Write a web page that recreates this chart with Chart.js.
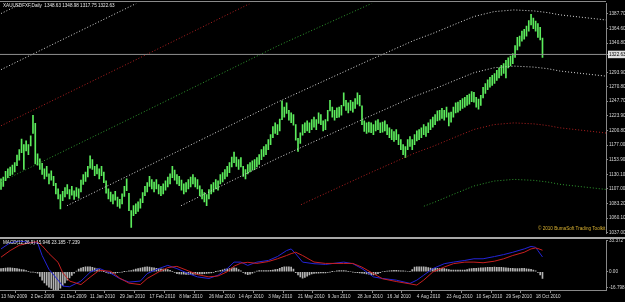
<!DOCTYPE html>
<html>
<head>
<meta charset="utf-8">
<script src="https://cdn.jsdelivr.net/npm/chart.js@4.4.0/dist/chart.umd.min.js"></script>
<style>
html, body { margin: 0; padding: 0; background: #000; width: 625px; height: 302px; overflow: hidden; }
canvas { position: absolute; left: 0; }
#price { top: 0; }
#macd { top: 237px; }
</style>
</head>
<body>
<canvas id="price" width="625" height="237"></canvas>
<canvas id="macd" width="625" height="65"></canvas>
<script>
// daily bars, 13 Nov 2009 .. 21 Oct 2010 (index = trading day)
var lows = [
  1106, 1111, 1120, 1125, 1128, 1130, 1134, 1144, 1153, 1165,
  1138, 1168, 1162, 1176, 1196, 1147, 1145, 1138, 1130, 1123,
  1127, 1115, 1121, 1112, 1099, 1091, 1075, 1088, 1094, 1099,
  1091, 1097, 1090, 1095, 1092, 1102, 1114, 1119, 1126, 1140,
  1138, 1128, 1131, 1123, 1128, 1117, 1100, 1091, 1087, 1083,
  1089, 1079, 1076, 1083, 1095, 1104, 1072, 1045, 1064, 1067,
  1071, 1076, 1085, 1096, 1102, 1111, 1107, 1102, 1107, 1099,
  1096, 1099, 1105, 1110, 1115, 1125, 1121, 1115, 1112, 1105,
  1099, 1102, 1107, 1110, 1115, 1110, 1107, 1096, 1091, 1086,
  1080, 1091, 1099, 1102, 1107, 1105, 1115, 1118, 1123, 1127,
  1133, 1142, 1149, 1143, 1138, 1142, 1127, 1123, 1131, 1134,
  1137, 1138, 1142, 1146, 1154, 1159, 1162, 1170, 1178, 1189,
  1196, 1194, 1200, 1218, 1222, 1228, 1217, 1213, 1209, 1185,
  1167, 1180, 1193, 1197, 1200, 1197, 1202, 1206, 1202, 1212,
  1210, 1200, 1202, 1216, 1232, 1222, 1217, 1221, 1222, 1225,
  1240, 1233, 1229, 1233, 1230, 1236, 1243, 1240, 1210, 1199,
  1196, 1198, 1197, 1194, 1200, 1202, 1197, 1198, 1200, 1194,
  1189, 1186, 1183, 1186, 1178, 1170, 1162, 1157, 1170, 1175,
  1170, 1178, 1184, 1186, 1189, 1194, 1191, 1197, 1202, 1206,
  1210, 1216, 1217, 1220, 1217, 1222, 1208, 1214, 1222, 1229,
  1230, 1233, 1236, 1238, 1241, 1243, 1247, 1246, 1238, 1235,
  1241, 1253, 1260, 1266, 1270, 1273, 1276, 1281, 1285, 1289,
  1292, 1285, 1301, 1304, 1308, 1318, 1330, 1336, 1344, 1347,
  1352, 1360, 1370, 1364, 1360, 1350, 1346, 1317.75
];
var highs = [
  1123, 1126, 1135, 1139, 1142, 1145, 1149, 1161, 1170, 1187,
  1178, 1184, 1178, 1192, 1225, 1212, 1163, 1155, 1148, 1139,
  1143, 1131, 1136, 1127, 1116, 1107, 1098, 1103, 1109, 1114,
  1106, 1111, 1104, 1109, 1107, 1121, 1130, 1134, 1143, 1160,
  1154, 1143, 1146, 1139, 1143, 1134, 1120, 1107, 1102, 1098,
  1103, 1094, 1090, 1099, 1111, 1123, 1100, 1072, 1080, 1083,
  1086, 1091, 1101, 1111, 1117, 1127, 1122, 1118, 1122, 1114,
  1111, 1115, 1120, 1126, 1131, 1143, 1137, 1130, 1127, 1121,
  1115, 1117, 1122, 1126, 1130, 1125, 1122, 1112, 1106, 1101,
  1098, 1106, 1114, 1117, 1122, 1120, 1130, 1133, 1138, 1143,
  1149, 1158, 1166, 1158, 1154, 1157, 1143, 1138, 1146, 1149,
  1152, 1154, 1157, 1162, 1170, 1175, 1178, 1186, 1194, 1207,
  1213, 1210, 1219, 1248, 1238, 1245, 1233, 1229, 1226, 1210,
  1188, 1197, 1210, 1213, 1216, 1213, 1218, 1222, 1218, 1229,
  1226, 1216, 1218, 1233, 1249, 1238, 1233, 1237, 1238, 1241,
  1261, 1249, 1245, 1249, 1246, 1252, 1261, 1257, 1240, 1216,
  1213, 1214, 1213, 1210, 1216, 1218, 1213, 1214, 1216, 1210,
  1205, 1202, 1199, 1202, 1194, 1186, 1178, 1175, 1186, 1191,
  1186, 1194, 1200, 1202, 1205, 1210, 1207, 1213, 1218, 1222,
  1226, 1232, 1233, 1236, 1233, 1238, 1229, 1230, 1238, 1245,
  1246, 1249, 1252, 1254, 1257, 1259, 1263, 1262, 1254, 1251,
  1257, 1270, 1276, 1282, 1286, 1289, 1292, 1297, 1301, 1305,
  1308, 1313, 1317, 1320, 1324, 1337, 1350, 1352, 1360, 1363,
  1368, 1377, 1387, 1381, 1376, 1372, 1366, 1348.98
];
var lastBar = [1348.63, 1348.98, 1317.75, 1322.63]; // O H L C

// MACD(12,26,9): histogram per bar, lines read at sample bars
var hist = [
  3.5, 3.8, 4.0, 4.2, 4.2, 4.0, 3.8, 3.5, 3.0, 2.5,
  2.0, 1.3, 0.5, -0.3, -0.4, -0.8, -1.5, -5.0, -9.0, -12.0,
  -14.5, -16.5, -18.0, -19.2, -19.8, -19.5, -17.5, -15.0, -12.0, -9.0,
  -6.5, -4.0, -1.5, 0.8, 2.8, 4.0, 4.8, 5.2, 5.4, 5.3,
  4.8, 4.0, 3.2, 2.3, 1.3, 0.2, -0.8, -1.6, -2.1, -1.8,
  -1.4, -0.9, -0.5, -0.2, 0.2, 0.6, 0.9, 1.3, 2.0, 2.8,
  3.5, 4.0, 4.6, 5.0, 5.3, 5.1, 4.6, 4.2, 3.8, 3.5,
  3.1, 2.8, 2.6, 2.4, 1.5, 0.4, -0.8, -1.9, -2.4, -2.6,
  -2.7, -2.8, -2.9, -2.9, -2.8, -2.6, -2.5, -2.3, -2.2, -2.0,
  -1.8, -1.5, -1.1, -0.6, 0.2, 0.8, 1.5, 2.2, 2.8, 3.3,
  3.5, 3.9, 4.3, 4.0, 2.5, 1.1, -0.8, -2.2, -3.2, -2.5,
  -1.5, -0.4, 0.8, 1.4, 1.4, 1.3, 1.2, 1.2, 1.5, 1.9,
  2.3, 2.6, 3.8, 4.8, 5.3, 5.3, 5.2, 5.0, 2.8, -1.0,
  -3.5, -5.5, -7.0, -6.2, -4.8, -3.5, -2.3, -1.8, -1.6, -1.5,
  -1.3, -1.2, -1.1, -0.8, -0.3, 0.2, 0.6, 1.0, 1.2, 1.4,
  1.4, 1.0, 0.5, 0.0, -0.3, -0.6, -0.9, -1.2, -1.4, -1.7,
  -2.2, -2.7, -3.2, -3.5, -2.8, -2.0, -1.0, 0.0, 0.5, 0.8,
  1.1, 1.3, 1.5, 1.5, 1.3, 1.1, 0.9, 0.7, 0.6, 0.5,
  2.5, 5.0, 5.2, 5.3, 5.3, 5.3, 5.0, 4.6, 4.1, 3.8,
  3.6, 3.6, 3.6, 3.6, 3.5, 3.0, 2.4, 1.9, 1.7, 1.7,
  1.8, 1.8, 1.8, 1.9, 2.5, 3.1, 3.5, 3.6, 3.8, 4.0,
  4.2, 4.3, 4.5, 4.7, 4.8, 4.9, 5.0, 4.9, 4.8, 4.7,
  4.5, 4.3, 4.0, 3.8, 3.6, 3.5, 3.5, 3.5, 3.6, 3.6,
  3.3, 3.0, 2.7, 1.8, 0.9, -0.8, -3.5, -7.239
];
var macdIdx = [0, 4, 8, 13, 16, 18, 21, 25, 27, 30, 35, 39, 43, 48, 52, 56, 61, 64, 69, 73,
  77, 82, 86, 91, 95, 99, 102, 105, 108, 112, 117, 121, 125, 127, 129, 132, 137, 142, 150, 154,
  158, 163, 167, 173, 179, 182, 185, 189, 194, 198, 203, 207, 211, 216, 220, 224, 229, 232, 234, 235, 237];
var macdMain = [24.6, 31.2, 33.0, 31.5, 31.2, 17.5, 2.6, -9.0, -15.4, -16.1, -10.0, -0.5, 3.7, -1.6, -7.4, -11.1, -10.0, -1.9, 3.4, 6.9,
  3.4, -1.9, -5.5, -7.2, -3.7, 3.4, 10.4, 10.4, 6.9, 10.4, 12.2, 16.4, 22.8, 24.6, 19.3, 10.4, 8.7, 7.9, 10.4, 8.7,
  3.4, -5.5, -7.2, -9.0, -12.5, -9.0, -3.7, 3.4, 8.7, 10.4, 12.2, 14.0, 14.0, 16.4, 18.5, 21.0, 24.6, 27.3, 26.3, 22.8, 15.946];
var macdSignal = [15.7, 22.8, 28.5, 31.5, 32.3, 28.0, 19.6, 10.1, -1.0, -10.0, -13.8, -5.8, 1.6, 0.5, -6.9, -12.2, -13.8, -7.2, -0.2, 4.5,
  5.8, 1.0, -3.0, -5.5, -4.5, 0.0, 6.0, 9.3, 10.2, 9.0, 11.0, 14.0, 17.5, 19.5, 21.0, 17.5, 10.5, 9.0, 9.0, 9.0,
  5.0, -2.0, -7.5, -10.5, -13.0, -14.3, -9.0, -0.2, 5.1, 8.7, 10.4, 10.4, 9.7, 11.4, 14.0, 17.5, 21.0, 24.6, 25.6, 25.0, 23.185];

// channel lines (bar index, price)
var w1Idx = [28.9, 60.0, 121.2, 160.6, 180.7, 189.5, 198.2, 207.0, 215.8, 224.5, 233.3, 239.4, 244.6, 264.8];
var w1Price = [1080.0, 1135.8, 1246.4, 1312.3, 1345.0, 1357.0, 1370.3, 1383.4, 1391.3, 1394.0, 1392.4, 1389.7, 1386.1, 1377.9];
var w2Idx = [78.8, 121.2, 160.6, 180.7, 189.5, 198.2, 207.0, 215.8, 224.5, 233.3, 239.4, 244.6, 264.8];
var w2Price = [1080.0, 1156.4, 1222.2, 1255.0, 1267.0, 1280.2, 1293.3, 1301.2, 1303.9, 1302.3, 1299.7, 1296.0, 1287.8];
var redIdx = [131.3, 160.6, 180.7, 189.5, 198.2, 207.0, 215.8, 224.5, 233.3, 239.4, 244.6, 264.8];
var redPrice = [1081.6, 1131.1, 1163.8, 1175.8, 1189.1, 1202.2, 1210.1, 1212.8, 1211.2, 1208.5, 1204.9, 1196.6];
var greenIdx = [185.1, 189.5, 198.2, 207.0, 215.8, 224.5, 233.3, 239.4, 244.6, 264.8];
var greenPrice = [1079.2, 1085.2, 1098.5, 1111.6, 1119.5, 1122.2, 1120.6, 1117.9, 1114.3, 1106.1];
var green2Idx = [0, 60, 121.2, 180.7];
var green2Price = [1118.3, 1225.9, 1336.5, 1435.0];
var red2Idx = [0, 60, 121.2];
var red2Price = [1208.2, 1315.8, 1426.4];
var w0Idx = [0, 60];
var w0Price = [1298.2, 1405.8];
var wTopIdx = [0, 30];
var wTopPrice = [1388.2, 1442.0];

var priceTicks = [1387.70, 1364.60, 1340.80, 1322.63, 1293.90, 1270.80, 1247.70, 1223.90, 1200.80,
  1177.00, 1153.90, 1130.10, 1107.00, 1083.20, 1060.10, 1037.00];
var macdTicks = [33.372, 0, -16.798];
var macdTickLabels = ['33.372', '0.00', '-16.798'];
var dateIdx = [0, 13, 26, 39, 52, 65, 78, 91, 104, 117, 130, 143, 156, 169, 182, 195, 208, 221, 234];
var dateLabels = ['13 Nov 2009', '2 Dec 2009', '21 Dec 2009', '11 Jan 2010', '29 Jan 2010', '17 Feb 2010',
  '8 Mar 2010', '26 Mar 2010', '14 Apr 2010', '3 May 2010', '21 May 2010', '9 Jun 2010', '28 Jun 2010',
  '16 Jul 2010', '4 Aug 2010', '23 Aug 2010', '10 Sep 2010', '29 Sep 2010', '18 Oct 2010'];

var FONT = 'Liberation Sans';
var xMin = -0.44, xMax = 264.8;

function pts(idx, vals) {
  return idx.map(function (x, i) { return { x: x, y: vals[i] }; });
}

function dotted(data, color) {
  return { type: 'line', data: data, borderColor: color, borderWidth: 1, borderDash: [1, 2],
    pointRadius: 0, fill: false, order: 1 };
}

var bars = lows.map(function (l, i) { return { x: i, y: [l, highs[i]] }; });

var textPlugin = {
  id: 'texts',
  afterDraw: function (chart) {
    var c = chart.ctx;
    c.save();
    c.font = '4.6px ' + FONT;
    c.textBaseline = 'middle';
    c.fillStyle = '#e8e8e8';
    c.fillText('XAUUSDFXF,Daily  ' + lastBar.map(function (v) { return v.toFixed(2); }).join(' '), 3, 6);
    c.fillStyle = '#d8b030';
    c.fillText('\u00a9 2010 BumaSoft Trading Toolkit', 538, 229);
    c.strokeStyle = '#8a8a8a';
    c.lineWidth = 1;
    c.beginPath(); c.moveTo(0, 1.5); c.lineTo(606, 1.5); c.stroke();
    c.restore();
  }
};

new Chart(document.getElementById('price'), {
  type: 'bar',
  data: {
    datasets: [
      { type: 'line', data: [{ x: xMin - 1, y: lastBar[3] }, { x: xMax + 1, y: lastBar[3] }],
        borderColor: '#909090', borderWidth: 1, pointRadius: 0, order: 0 },
      dotted(pts(wTopIdx, wTopPrice), '#d8d8d8'),
      dotted(pts(w0Idx, w0Price), '#d8d8d8'),
      dotted(pts(red2Idx, red2Price), '#b02020'),
      dotted(pts(green2Idx, green2Price), '#2f9a2f'),
      dotted(pts(w1Idx, w1Price), '#d8d8d8'),
      dotted(pts(w2Idx, w2Price), '#d8d8d8'),
      dotted(pts(redIdx, redPrice), '#b02020'),
      dotted(pts(greenIdx, greenPrice), '#2f9a2f'),
      { type: 'bar', data: bars, backgroundColor: '#5cec5c', barThickness: 1, grouped: false, order: 2 }
    ]
  },
  options: {
    animation: false, responsive: false, devicePixelRatio: 1,
    layout: { padding: { top: 2, bottom: 2, left: 0, right: 0 } },
    plugins: { legend: { display: false }, tooltip: { enabled: false } },
    scales: {
      x: { type: 'linear', min: xMin, max: xMax, offset: false, display: false },
      y: {
        position: 'right', min: 1035.8, max: 1403.9,
        afterFit: function (s) { s.width = 19; },
        afterBuildTicks: function (s) { s.ticks = priceTicks.map(function (v) { return { value: v }; }); },
        grid: { drawOnChartArea: false, tickLength: 2, color: '#888' },
        border: { color: '#888' },
        ticks: {
          autoSkip: false, padding: 1,
          font: { family: FONT, size: 4.6 },
          color: function (ctx) { return ctx.tick && ctx.tick.value === lastBar[3] ? '#000' : '#d8d8d8'; },
          showLabelBackdrop: function (ctx) { return ctx.tick && ctx.tick.value === lastBar[3]; },
          backdropColor: '#e0e0e0', backdropPadding: 1,
          callback: function (v) { return Number(v).toFixed(2); }
        }
      }
    }
  },
  plugins: [textPlugin]
});

var macdPlugin = {
  id: 'macdTexts',
  afterDraw: function (chart) {
    var c = chart.ctx;
    c.save();
    c.fillStyle = '#a8a8a8';
    c.fillRect(0, 0, 625, 2);
    c.font = '4.6px ' + FONT;
    c.textBaseline = 'middle';
    c.fillStyle = '#e8e8e8';
    c.fillText('MACD(12,26,9) ' + macdMain[macdMain.length - 1].toFixed(3) + ' ' +
      macdSignal[macdSignal.length - 1].toFixed(3) + ' ' + hist[hist.length - 1].toFixed(3), 3, 6);
    c.restore();
  }
};

new Chart(document.getElementById('macd'), {
  type: 'bar',
  data: {
    datasets: [
      { type: 'line', data: pts(macdIdx, macdMain), borderColor: '#2424d8', borderWidth: 1, pointRadius: 0, order: 1 },
      { type: 'line', data: pts(macdIdx, macdSignal), borderColor: '#c82020', borderWidth: 1, pointRadius: 0, order: 0 },
      { type: 'bar', data: hist.map(function (v, i) { return { x: i, y: v }; }),
        backgroundColor: '#b4b4b4', barThickness: 1, grouped: false, order: 2 }
    ]
  },
  options: {
    animation: false, responsive: false, devicePixelRatio: 1,
    layout: { padding: { top: 3, bottom: 0, left: 0, right: 0 } },
    plugins: { legend: { display: false }, tooltip: { enabled: false } },
    scales: {
      x: {
        type: 'linear', min: xMin, max: xMax, offset: false,
        afterFit: function (s) { s.height = 12; },
        afterBuildTicks: function (s) { s.ticks = dateIdx.map(function (v) { return { value: v }; }); },
        grid: { drawOnChartArea: false, tickLength: 3, color: '#888' },
        border: { color: '#888' },
        ticks: {
          autoSkip: false, maxRotation: 0, minRotation: 0, align: 'start', padding: 1,
          font: { family: FONT, size: 4.6 }, color: '#d8d8d8',
          callback: function (v, i) { return dateLabels[i]; }
        }
      },
      y: {
        position: 'right', min: -19.6, max: 33.372,
        afterFit: function (s) { s.width = 19; },
        afterBuildTicks: function (s) { s.ticks = macdTicks.map(function (v) { return { value: v }; }); },
        grid: { drawOnChartArea: false, tickLength: 2, color: '#888' },
        border: { color: '#888' },
        ticks: {
          autoSkip: false, padding: 1,
          font: { family: FONT, size: 4.6 }, color: '#d8d8d8',
          callback: function (v, i) { return macdTickLabels[i]; }
        }
      }
    }
  },
  plugins: [macdPlugin]
});
</script>
</body>
</html>
